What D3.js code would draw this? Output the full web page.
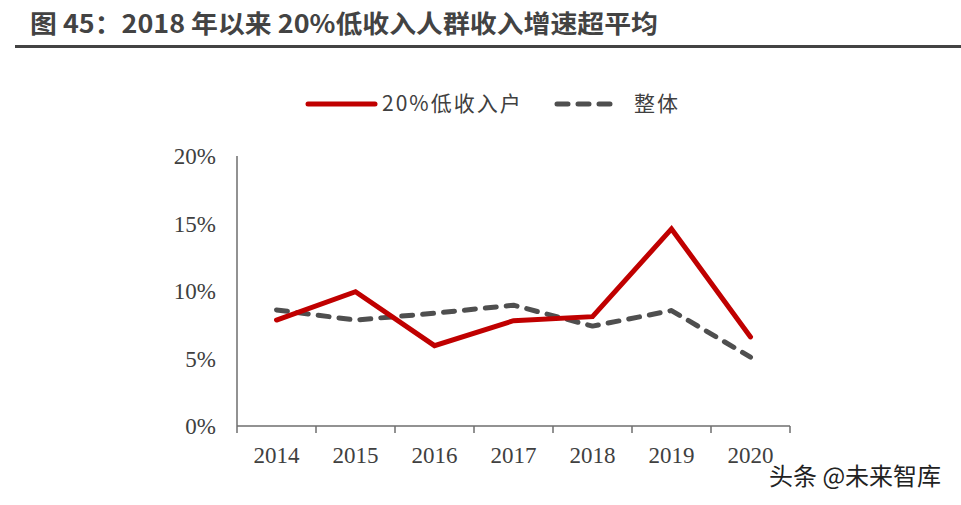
<!DOCTYPE html>
<html>
<head>
<meta charset="utf-8">
<script src="https://cdn.jsdelivr.net/npm/d3@7/dist/d3.min.js"></script>
<style>
  html, body { margin: 0; padding: 0; background: #fff; }
  svg { display: block; }
</style>
</head>
<body>
<svg id="chart"></svg>
<script>
// ── Data ────────────────────────────────────────────────────────────────────
var years = ["2014", "2015", "2016", "2017", "2018", "2019", "2020"];
var lowIncome = [7.85, 9.95, 5.95, 7.8, 8.1, 14.6, 6.6];   // 20%低收入户
var overall   = [8.6, 7.85, 8.35, 8.95, 7.4, 8.55, 5.1];   // 整体
var yTicks = [0, 5, 10, 15, 20];

(function () {
  "use strict";

  var width = 961, height = 505;
  var margin = { left: 237, right: 171, top: 156, bottom: 79 };

  var C = {
    red: "#c00000",
    grey: "#4f4f4f",
    axis: "#6e6e6e",
    label: "#404040",
    title: "#434343"
  };

  var svg = d3.select("#chart")
    .attr("width", width)
    .attr("height", height)
    .attr("viewBox", [0, 0, width, height]);

  // ── Title ────────────────────────────────────────────────────────────────
  svg.append("text")
    .attr("x", 30).attr("y", 33)
    .attr("font-family", "'Noto Sans CJK SC', 'Noto Sans', sans-serif")
    .attr("font-weight", "bold")
    .attr("font-size", 25)
    .attr("textLength", 628)
    .attr("lengthAdjust", "spacingAndGlyphs")
    .attr("fill", C.title)
    .text("图 45：2018 年以来 20%低收入人群收入增速超平均");

  svg.append("line")
    .attr("x1", 15).attr("x2", width)
    .attr("y1", 46.5).attr("y2", 46.5)
    .attr("stroke", C.title)
    .attr("stroke-width", 3);

  // ── Scales ───────────────────────────────────────────────────────────────
  var x = d3.scaleBand()
    .domain(years)
    .range([margin.left, width - margin.right]);

  var y = d3.scaleLinear()
    .domain([0, 20])
    .range([height - margin.bottom, margin.top]);

  var cx = function (d, i) { return x(years[i]) + x.bandwidth() / 2; };

  // ── Axes ─────────────────────────────────────────────────────────────────
  var serif = "'Liberation Serif', 'Times New Roman', serif";

  // y axis: line only, labels to the left
  svg.append("line")
    .attr("x1", margin.left).attr("x2", margin.left)
    .attr("y1", y(20)).attr("y2", y(0))
    .attr("stroke", C.axis).attr("stroke-width", 1.5);

  svg.append("g")
    .selectAll("text")
    .data(yTicks)
    .join("text")
    .attr("x", 216)
    .attr("y", function (d) { return y(d); })
    .attr("dy", "0.35em")
    .attr("text-anchor", "end")
    .attr("font-family", serif)
    .attr("font-size", 23)
    .attr("fill", C.label)
    .text(function (d) { return d + "%"; });

  // x axis with ticks at band edges
  var xAxis = svg.append("g");
  xAxis.append("line")
    .attr("x1", margin.left).attr("x2", width - margin.right)
    .attr("y1", y(0)).attr("y2", y(0))
    .attr("stroke", C.axis).attr("stroke-width", 1.5);

  var edges = years.map(function (d) { return x(d); }).concat([width - margin.right]);
  xAxis.selectAll("line.tick")
    .data(edges)
    .join("line")
    .attr("class", "tick")
    .attr("x1", function (d) { return d; }).attr("x2", function (d) { return d; })
    .attr("y1", y(0)).attr("y2", y(0) + 7)
    .attr("stroke", C.axis).attr("stroke-width", 1.5);

  xAxis.selectAll("text")
    .data(years)
    .join("text")
    .attr("x", function (d) { return x(d) + x.bandwidth() / 2; })
    .attr("y", 463)
    .attr("text-anchor", "middle")
    .attr("font-family", serif)
    .attr("font-size", 23)
    .attr("fill", C.label)
    .text(function (d) { return d; });

  // ── Lines ────────────────────────────────────────────────────────────────
  var line = d3.line()
    .x(cx)
    .y(function (d) { return y(d); });

  svg.append("path")
    .datum(overall)
    .attr("d", line)
    .attr("fill", "none")
    .attr("stroke", C.grey)
    .attr("stroke-width", 5)
    .attr("stroke-dasharray", "11,10")
    .attr("stroke-linecap", "round")
    .attr("stroke-linejoin", "round");

  svg.append("path")
    .datum(lowIncome)
    .attr("d", line)
    .attr("fill", "none")
    .attr("stroke", C.red)
    .attr("stroke-width", 5)
    .attr("stroke-linecap", "round")
    .attr("stroke-linejoin", "miter");

  // ── Legend ───────────────────────────────────────────────────────────────
  var lg = svg.append("g").attr("font-family", "'Noto Sans CJK SC', sans-serif")
    .attr("font-size", 21).attr("letter-spacing", 2).attr("fill", C.label);

  lg.append("line")
    .attr("x1", 308).attr("x2", 375).attr("y1", 104).attr("y2", 104)
    .attr("stroke", C.red).attr("stroke-width", 5).attr("stroke-linecap", "round");
  lg.append("text").attr("x", 382).attr("y", 104).attr("dy", "0.35em")
    .text("20%低收入户");

  lg.append("line")
    .attr("x1", 557).attr("x2", 618).attr("y1", 104).attr("y2", 104)
    .attr("stroke", C.grey).attr("stroke-width", 5)
    .attr("stroke-dasharray", "11,10").attr("stroke-linecap", "round");
  lg.append("text").attr("x", 634).attr("y", 104).attr("dy", "0.35em")
    .text("整体");

  // ── Watermark ────────────────────────────────────────────────────────────
  svg.append("text")
    .attr("x", 769).attr("y", 485)
    .attr("font-family", "'Noto Sans CJK SC', sans-serif")
    .attr("font-size", 24)
    .attr("fill", "#222")
    .attr("paint-order", "stroke")
    .attr("stroke", "#fff").attr("stroke-width", 3)
    .text("头条 @未来智库");
})();
</script>
</body>
</html>
